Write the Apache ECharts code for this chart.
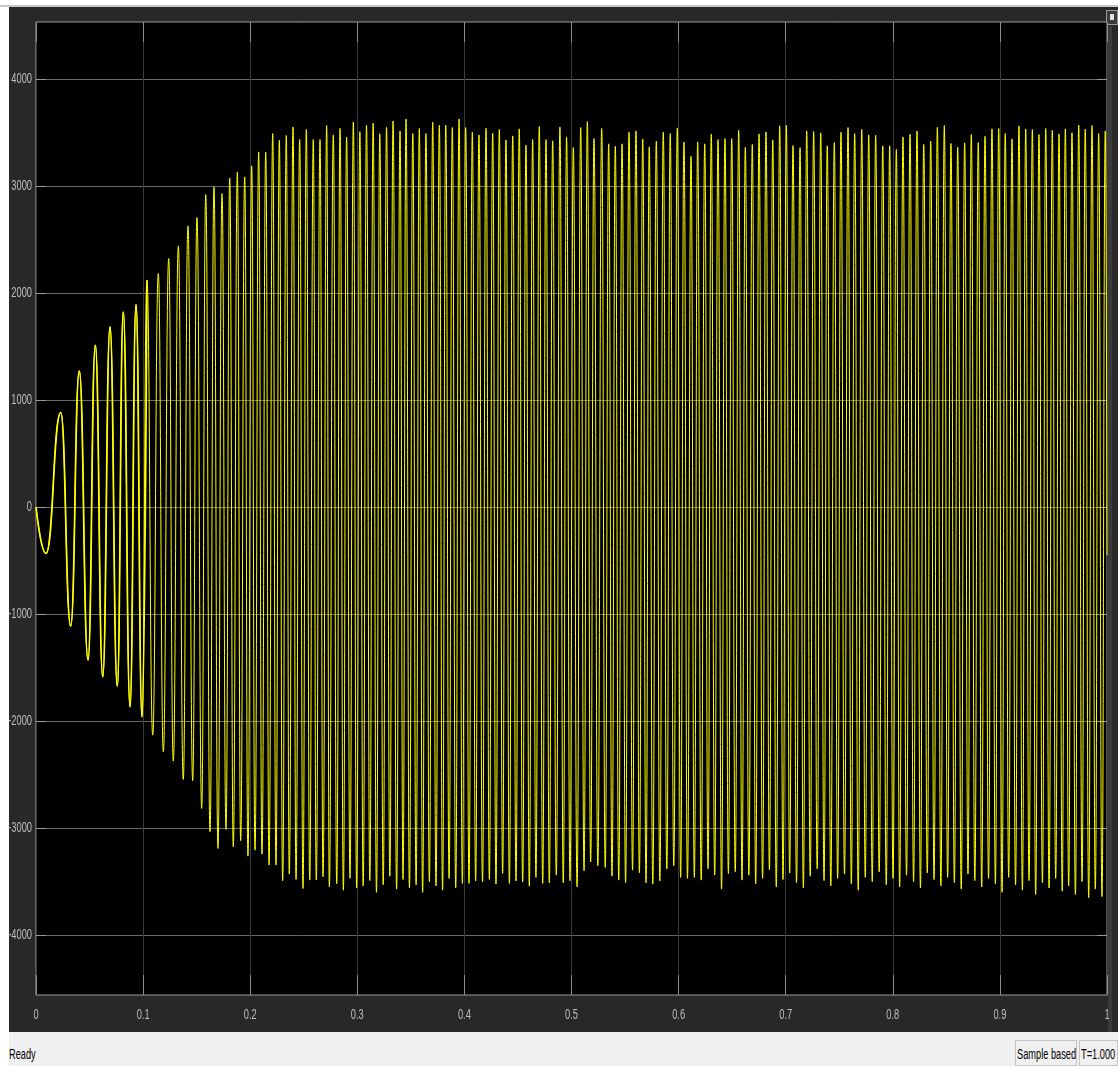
<!DOCTYPE html>
<html>
<head>
<meta charset="utf-8">
<script src="https://cdn.jsdelivr.net/npm/echarts@6/dist/echarts.min.js"></script>
<style>
  html, body { margin: 0; padding: 0; background: #ffffff; width: 1118px; height: 1066px; overflow: hidden; }
  #topline { position: absolute; left: 0; top: 5px; width: 1118px; height: 2px; background: #c8c8c8; }
  #panel { position: absolute; left: 9px; top: 7px; width: 1109px; height: 1025px; background: #282828; }
  #rstrip { position: absolute; left: 1108px; top: 26px; width: 4px; height: 1006px; background: #3a3a3a; }
  #btn { position: absolute; left: 1106px; top: 10px; width: 10px; height: 13px; border: 1px solid #9a9a9a; background: #3a3a3a; }
  #btn div { position: absolute; left: 3px; top: 3px; width: 4px; height: 6px; background: #e0e0e0; }
  #status { position: absolute; left: 9px; top: 1032px; width: 1109px; height: 34px; background: #f0f0f0; }
  .st { position: absolute; white-space: nowrap; font-family: 'Liberation Sans', Arial, sans-serif; font-size: 14px; line-height: 14px; color: #000;
        transform: scaleX(0.66); transform-origin: 0 50%; }
  .box { position: absolute; top: 8px; height: 26px; border: 1px solid #c4c4c4; box-sizing: border-box; }
  #chart { position: absolute; left: 0; top: 0; width: 1118px; height: 1066px; }
</style>
</head>
<body>
<div id="topline"></div>
<div id="panel"></div>
<div id="rstrip"></div>
<div id="btn"><div></div></div>
<div id="status">
  <span class="st" style="left:0px; top:15px;">Ready</span>
  <div class="box" style="left:1006px; width:62px;"><span class="st" style="left:1px; top:6px;">Sample based</span></div>
  <div class="box" style="left:1070px; width:39px;"><span class="st" style="left:1px; top:6px;">T=1.000</span></div>
</div>
<div id="chart"></div>
<script>
// ---- Data ----
// Time (s) of each local maximum of the signal
const peakT = [
  0.0231, 0.0404, 0.0554, 0.0691, 0.0815, 0.0934, 0.1036, 0.1142, 0.1239, 0.1329,
  0.1419, 0.1503, 0.1585, 0.1662, 0.1737, 0.1809, 0.1880, 0.1949, 0.2014, 0.2079,
  0.2145, 0.2210, 0.2272, 0.2337, 0.2400, 0.2462, 0.2524, 0.2589, 0.2652, 0.2714,
  0.2776, 0.2839, 0.2900, 0.2963, 0.3024, 0.3086, 0.3148, 0.3210, 0.3273, 0.3334,
  0.3399, 0.3455, 0.3518, 0.3579, 0.3641, 0.3704, 0.3766, 0.3826, 0.3887, 0.3950,
  0.4012, 0.4074, 0.4136, 0.4202, 0.4264, 0.4326, 0.4388, 0.4451, 0.4512, 0.4575,
  0.4637, 0.4699, 0.4762, 0.4824, 0.4892, 0.4954, 0.5017, 0.5086, 0.5148, 0.5210,
  0.5282, 0.5347, 0.5409, 0.5472, 0.5537, 0.5602, 0.5665, 0.5726, 0.5792, 0.5857,
  0.5922, 0.5988, 0.6050, 0.6116, 0.6178, 0.6244, 0.6305, 0.6368, 0.6433, 0.6496,
  0.6561, 0.6623, 0.6688, 0.6751, 0.6816, 0.6879, 0.6944, 0.7006, 0.7068, 0.7134,
  0.7196, 0.7261, 0.7327, 0.7388, 0.7454, 0.7516, 0.7582, 0.7644, 0.7710, 0.7775,
  0.7840, 0.7906, 0.7971, 0.8033, 0.8095, 0.8161, 0.8226, 0.8289, 0.8354, 0.8416,
  0.8481, 0.8543, 0.8606, 0.8671, 0.8733, 0.8798, 0.8861, 0.8926, 0.8989, 0.9050,
  0.9113, 0.9178, 0.9241, 0.9303, 0.9365, 0.9428, 0.9489, 0.9552, 0.9611, 0.9673,
  0.9736, 0.9797, 0.9860, 0.9922, 0.9984
];
// Value of each local maximum
const peakV = [
  885, 1274, 1514, 1685, 1825, 1894, 2121, 2184, 2324, 2442,
  2629, 2707, 2922, 2994, 2931, 3075, 3131, 3087, 3190, 3321,
  3318, 3492, 3430, 3474, 3554, 3436, 3530, 3436, 3436, 3567,
  3480, 3540, 3460, 3600, 3510, 3570, 3590, 3490, 3550, 3610,
  3517, 3629, 3492, 3539, 3492, 3598, 3570, 3570, 3548, 3629,
  3548, 3505, 3480, 3542, 3495, 3530, 3433, 3470, 3536, 3383,
  3436, 3558, 3436, 3424, 3554, 3461, 3361, 3548, 3604, 3445,
  3539, 3396, 3374, 3396, 3505, 3517, 3442, 3368, 3421, 3505,
  3492, 3545, 3414, 3280, 3414, 3396, 3486, 3436, 3445, 3445,
  3523, 3364, 3390, 3489, 3508, 3433, 3564, 3570, 3380, 3361,
  3517, 3511, 3499, 3377, 3408, 3505, 3548, 3492, 3530, 3480,
  3477, 3377, 3377, 3343, 3461, 3486, 3517, 3390, 3421, 3551,
  3567, 3399, 3364, 3405, 3483, 3408, 3467, 3536, 3539, 3492,
  3442, 3564, 3536, 3530, 3483, 3539, 3523, 3489, 3536, 3499,
  3570, 3533, 3567, 3492, 3517
];
// Time (s) of each local minimum (each one just before the peak of the same index)
const troughT = [
  0.0093, 0.0324, 0.0486, 0.0623, 0.0759, 0.0878, 0.0990, 0.1090, 0.1189, 0.1282,
  0.1375, 0.1463, 0.1547, 0.1625, 0.1699, 0.1774, 0.1842, 0.1911, 0.1979, 0.2045,
  0.2110, 0.2176, 0.2241, 0.2303, 0.2365, 0.2428, 0.2493, 0.2556, 0.2617, 0.2680,
  0.2739, 0.2808, 0.2870, 0.2932, 0.2994, 0.3055, 0.3117, 0.3179, 0.3242, 0.3304,
  0.3367, 0.3427, 0.3487, 0.3549, 0.3610, 0.3673, 0.3735, 0.3796, 0.3857, 0.3919,
  0.3981, 0.4043, 0.4105, 0.4169, 0.4233, 0.4295, 0.4357, 0.4420, 0.4482, 0.4544,
  0.4606, 0.4668, 0.4731, 0.4793, 0.4858, 0.4923, 0.4986, 0.5052, 0.5117, 0.5179,
  0.5246, 0.5315, 0.5378, 0.5441, 0.5505, 0.5570, 0.5634, 0.5696, 0.5759, 0.5825,
  0.5890, 0.5955, 0.6019, 0.6083, 0.6147, 0.6211, 0.6275, 0.6337, 0.6401, 0.6465,
  0.6529, 0.6592, 0.6656, 0.6720, 0.6784, 0.6848, 0.6912, 0.6975, 0.7037, 0.7101,
  0.7165, 0.7229, 0.7294, 0.7358, 0.7421, 0.7485, 0.7549, 0.7613, 0.7677, 0.7743,
  0.7808, 0.7873, 0.7939, 0.8002, 0.8064, 0.8128, 0.8194, 0.8258, 0.8322, 0.8385,
  0.8449, 0.8512, 0.8575, 0.8639, 0.8702, 0.8766, 0.8830, 0.8894, 0.8958, 0.9020,
  0.9082, 0.9146, 0.9210, 0.9272, 0.9334, 0.9397, 0.9459, 0.9521, 0.9582, 0.9642,
  0.9705, 0.9767, 0.9829, 0.9891, 0.9953
];
// Value of each local minimum
const troughV = [
  -433, -1112, -1430, -1586, -1673, -1866, -1960, -2131, -2287, -2374,
  -2545, -2558, -2816, -3034, -3190, -3012, -3174, -3118, -3262, -3206,
  -3243, -3346, -3346, -3492, -3430, -3480, -3564, -3486, -3486, -3455,
  -3549, -3520, -3580, -3470, -3560, -3540, -3490, -3600, -3530, -3450,
  -3570, -3480, -3560, -3530, -3600, -3500, -3540, -3580, -3470, -3558,
  -3517, -3517, -3495, -3502, -3480, -3523, -3424, -3517, -3495, -3502,
  -3542, -3461, -3517, -3511, -3439, -3511, -3492, -3548, -3399, -3315,
  -3352, -3368, -3449, -3486, -3511, -3393, -3418, -3511, -3523, -3495,
  -3383, -3352, -3461, -3470, -3461, -3486, -3380, -3439, -3570, -3424,
  -3408, -3486, -3440, -3520, -3470, -3390, -3550, -3480, -3420, -3510,
  -3560, -3450, -3380, -3490, -3540, -3470, -3430, -3520, -3580, -3460,
  -3500, -3410, -3530, -3470, -3550, -3440, -3500, -3560, -3420, -3480,
  -3540, -3460, -3510, -3570, -3430, -3490, -3550, -3470, -3520, -3600,
  -3460, -3530, -3580, -3490, -3620, -3510, -3560, -3470, -3590, -3540,
  -3620, -3500, -3650, -3570, -3640
];
const startPoint = [0, 0];
const endPoint = [1.0, -450];

// Axis ticks and their labels
const xTickValues = [0, 0.1, 0.2, 0.3, 0.4, 0.5, 0.6, 0.7, 0.8, 0.9, 1];
const xTickLabels = ['0', '0.1', '0.2', '0.3', '0.4', '0.5', '0.6', '0.7', '0.8', '0.9', '1'];
const yTickValues = [4000, 3000, 2000, 1000, 0, -1000, -2000, -3000, -4000];
const yTickLabels = ['4000', '3000', '2000', '1000', '0', '-1000', '-2000', '-3000', '-4000'];
const yMin = -4560, yMax = 4535;
const boldUntil = 0.105; // the start-up part looks heavier in the scope

// Build the series in time order
const signal = [startPoint];
for (let i = 0; i < peakT.length; i++) {
  signal.push([troughT[i], troughV[i]]);
  signal.push([peakT[i], peakV[i]]);
}
signal.push(endPoint);
const early = signal.filter(function (p) { return p[0] <= boldUntil; });

const chart = echarts.init(document.getElementById('chart'), null, { renderer: 'canvas' });
const xTickStyle = { color: '#8c8c8c' };
const yTickStyle = { color: '#9a9a9a' };
const noLine = { show: false, onZero: false };
const lineCommon = {
  type: 'line', xAxisIndex: 0, yAxisIndex: 0,
  showSymbol: false, symbol: 'none', smooth: 0.5, smoothMonotone: 'x', clip: true,
  emphasis: { disabled: true }
};
chart.setOption({
  backgroundColor: 'transparent',
  animation: false,
  grid: {
    left: 36, right: 11, top: 22, bottom: 71,
    outerBoundsMode: 'none', containLabel: false,
    show: true, backgroundColor: '#000000', borderColor: '#9c9c9c', borderWidth: 1
  },
  xAxis: [
    {
      type: 'value', min: 0, max: 1, interval: 0.1, position: 'bottom',
      axisLine: noLine,
      axisTick: { show: true, inside: true, length: 20, lineStyle: xTickStyle },
      splitLine: { show: true, lineStyle: { color: '#3a3a3a', width: 1 } },
      axisLabel: { show: false }
    },
    {
      type: 'value', min: 0, max: 1, interval: 0.1, position: 'top',
      axisLine: noLine,
      axisTick: { show: true, inside: true, length: 20, lineStyle: xTickStyle },
      splitLine: { show: false },
      axisLabel: { show: false }
    }
  ],
  yAxis: [
    {
      type: 'value', min: yMin, max: yMax, splitNumber: 9, position: 'left',
      axisLine: noLine,
      axisTick: { show: true, inside: true, length: 10, lineStyle: yTickStyle, customValues: yTickValues },
      splitLine: { show: true, lineStyle: { color: '#686868', width: 1 } },
      axisLabel: { show: false, customValues: yTickValues }
    },
    {
      type: 'value', min: yMin, max: yMax, splitNumber: 9, position: 'right',
      axisLine: noLine,
      axisTick: { show: true, inside: true, length: 10, lineStyle: yTickStyle, customValues: yTickValues },
      splitLine: { show: false },
      axisLabel: { show: false, customValues: yTickValues }
    }
  ],
  series: [
    Object.assign({}, lineCommon, { data: signal, lineStyle: { color: '#ffff00', width: 1 }, z: 2 }),
    Object.assign({}, lineCommon, { data: early, lineStyle: { color: '#ffff00', width: 1.7 }, z: 3 })
  ]
});

// Tick labels: narrow, tall text placed through the axes' own scales
const labelFont = "15px 'Liberation Sans', Arial, sans-serif";
const labelColor = '#bdbdbd';
const graphics = [];
const xLabelY = chart.convertToPixel({ yAxisIndex: 0 }, yMin) + 20;
xTickValues.forEach(function (v, i) {
  graphics.push({
    type: 'text', x: chart.convertToPixel({ xAxisIndex: 0 }, v), y: xLabelY,
    scaleX: 0.62, silent: true,
    style: { text: xTickLabels[i], font: labelFont, fill: labelColor, align: 'center', verticalAlign: 'middle' }
  });
});
const yLabelX = chart.convertToPixel({ xAxisIndex: 0 }, 0) - 4;
yTickValues.forEach(function (v, i) {
  graphics.push({
    type: 'text', x: yLabelX, y: chart.convertToPixel({ yAxisIndex: 0 }, v),
    scaleX: 0.62, silent: true,
    style: { text: yTickLabels[i], font: labelFont, fill: labelColor, align: 'right', verticalAlign: 'middle' }
  });
});
chart.setOption({ graphic: graphics });
</script>
</body>
</html>
